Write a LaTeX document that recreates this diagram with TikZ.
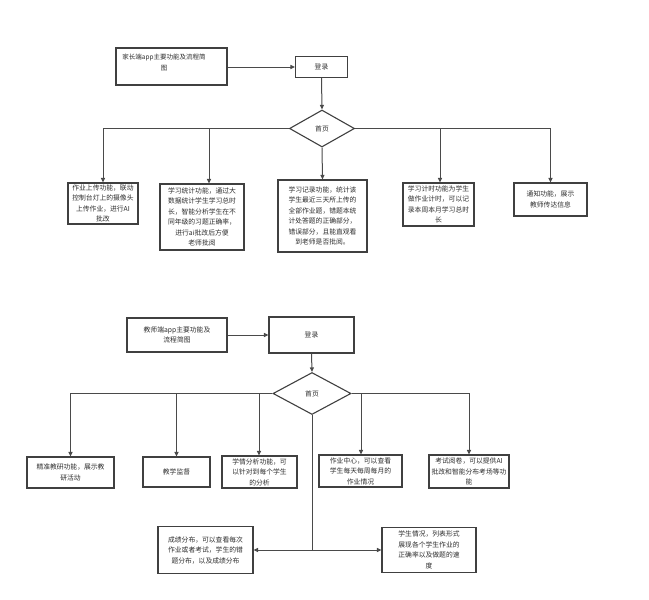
\documentclass[tikz,border=0pt]{standalone}
\usepackage{fontspec}
\setmainfont{Noto Sans CJK SC}
\usetikzlibrary{arrows.meta,shapes.geometric}
\definecolor{linec}{HTML}{4A4A4A}
\definecolor{boxc}{HTML}{404040}
\definecolor{txtc}{HTML}{2E2E2E}
\tikzset{
  box/.style={draw=boxc,line width=1.1pt,rectangle,inner sep=0pt,align=center,
    font=\fontsize{6.8pt}{10.5pt}\selectfont,text=txtc},
  dia/.style={draw=boxc,line width=1.1pt,diamond,inner sep=0pt,
    font=\fontsize{6.8pt}{10.5pt}\selectfont,text=txtc},
  lbl/.style={inner sep=0pt,align=center,font=\fontsize{6.5pt}{11pt}\selectfont,text=txtc},
  conn/.style={draw=linec,line width=1pt},
  arr/.style={conn,-{Triangle[length=4.5pt,width=4pt]}}
}
\begin{document}
\begin{tikzpicture}[x=1pt,y=-1pt]
\useasboundingbox[fill=white] (0,0) rectangle (649,600);
% ---------- parent app ----------
\node[box,minimum width=111pt,minimum height=37pt] (t1) at (171.5,66.5) {};
\node[lbl] (t1txt) at (164,62.5) {家长端app主要功能及流程简\\图};
\node[box,minimum width=52pt,minimum height=21pt] (l1) at (321.5,67) {登录};
\node[dia,minimum width=65pt,minimum height=37pt] (d1) at (322,128.5) {首页};
\node[box,minimum width=70pt,minimum height=41pt] (p1) at (103,203.5) {作业上传功能，联动\\控制台灯上的摄像头\\上传作业，进行AI\\批改};
\node[box,minimum width=84pt,minimum height=66pt] (p2) at (202,217) {学习统计功能，通过大\\数据统计学生学习总时\\长，智能分析学生在不\\同年级的习题正确率，\\进行ai批改后方便\\老师批阅};
\node[box,minimum width=89pt,minimum height=72pt] (p3) at (322.5,216) {学习记录功能，统计该\\学生最近三天所上传的\\全部作业题，错题本统\\计处答题的正确部分，\\错误部分，且能直观看\\到老师是否批阅。};
\node[box,minimum width=71pt,minimum height=43pt] (p4) at (438.5,204.5) {学习计时功能为学生\\做作业计时，可以记\\录本周本月学习总时\\长};
\node[box,minimum width=73pt,minimum height=33pt] (p5) at (550.5,199.5) {通知功能，展示\\教师传达信息};
\coordinate (a2) at (209,128.5);
\coordinate (a4) at (440,128.5);
\draw[arr] (t1.east |- l1.west) -- (l1.west);
\draw[arr] (l1.south) -- (d1.north);
\draw[arr] (d1.west) -| (p1.north);
\draw[arr] (a2) -- (a2 |- p2.north);
\draw[arr] (d1.south) -- (p3.north);
\draw[arr] (a4) -- (a4 |- p4.north);
\draw[arr] (d1.east) -| (p5.north);
% ---------- teacher app ----------
\node[box,minimum width=100pt,minimum height=34pt] (t2) at (177,335) {教师端app主要功能及\\流程简图};
\node[box,minimum width=85pt,minimum height=36pt] (l2) at (311.5,335) {登录};
\node[dia,minimum width=78pt,minimum height=42pt] (d2) at (312,393.5) {首页};
\node[box,minimum width=87pt,minimum height=31pt] (q1) at (70.5,472.5) {精准教研功能，展示教\\研活动};
\node[box,minimum width=67pt,minimum height=30pt] (q2) at (176.5,472) {教学监督};
\node[box,minimum width=75pt,minimum height=32pt] (q3) at (259.5,472) {学情分析功能，可\\以针对到每个学生\\的分析};
\node[box,minimum width=83pt,minimum height=32pt] (q4) at (360.5,471) {作业中心，可以查看\\学生每天每周每月的\\作业情况};
\node[box,minimum width=80pt,minimum height=33pt] (q5) at (469,471.5) {考试阅卷，可以提供AI\\批改和智能分布考场等功\\能};
\node[box,minimum width=95pt,minimum height=47pt] (q6) at (205.5,550) {成绩分布，可以查看每次\\作业或者考试，学生的错\\题分布，以及成绩分布};
\node[box,minimum width=94pt,minimum height=45pt] (q7) at (429,550) {学生情况，列表形式\\展现各个学生作业的\\正确率以及做题的速\\度};
\coordinate (b2) at (176.5,393.5);
\coordinate (b3) at (259,393.5);
\coordinate (b4) at (361,393.5);
\coordinate (mid) at (312,550);
\draw[arr] (t2.east) -- (l2.west);
\draw[arr] (l2.south) -- (d2.north);
\draw[arr] (d2.west) -| (q1.north);
\draw[arr] (b2) -- (b2 |- q2.north);
\draw[arr] (b3) -- (b3 |- q3.north);
\draw[arr] (b4) -- (b4 |- q4.north);
\draw[arr] (d2.east) -| (q5.north);
\draw[conn] (d2.south) -- (mid);
\draw[arr] (mid) -- (q6.east);
\draw[arr] (mid) -- (q7.west);
\end{tikzpicture}
\end{document}
